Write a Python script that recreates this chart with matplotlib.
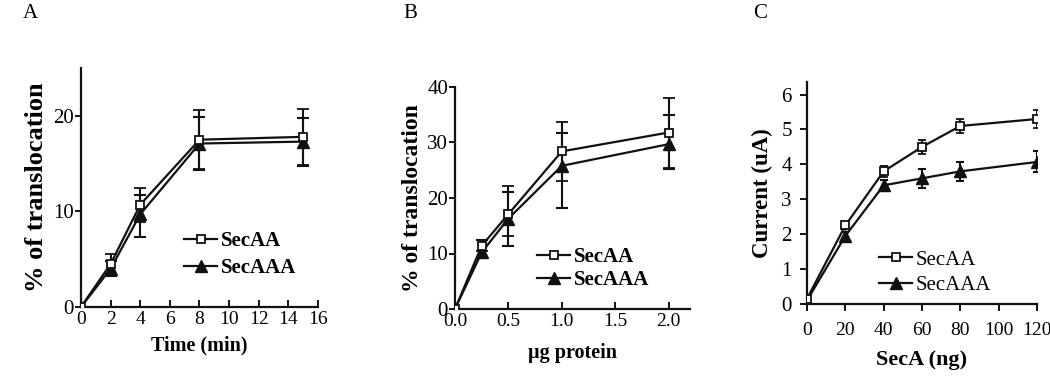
import matplotlib
matplotlib.use("Agg")
import matplotlib.pyplot as plt
from matplotlib.lines import Line2D
import numpy as np

plt.rcParams['font.family'] = ['Liberation Serif', 'DejaVu Serif']

# Panel A: time course
timeA = [0, 2, 4, 8, 15]
secAA_A = [0, 4.5, 10.7, 17.5, 17.8]
secAA_A_err = [0, 1.0, 1.8, 3.1, 2.9]
secAAA_A = [0, 4.0, 9.7, 17.1, 17.3]
secAAA_A_lo = [0, 0.8, 2.4, 2.8, 2.5]
secAAA_A_hi = [0, 0.8, 2.0, 2.8, 2.5]

# Panel B: protein amount
protB = [0, 0.25, 0.5, 1.0, 2.0]
secAA_B = [0, 11.4, 17.1, 28.4, 31.8]
secAA_B_lo = [0, 1.0, 3.9, 5.3, 6.4]
secAA_B_hi = [0, 1.0, 5.1, 5.3, 6.3]
secAAA_B = [0, 10.2, 16.3, 25.8, 29.7]
secAAA_B_lo = [0, 1.0, 4.9, 7.6, 4.4]
secAAA_B_hi = [0, 2.2, 4.7, 6.0, 5.2]

# Panel C: current
secaC = [0, 20, 40, 60, 80, 120]
secAA_C = [0.15, 2.25, 3.8, 4.5, 5.1, 5.3]
secAA_C_err = [0.05, 0.1, 0.15, 0.2, 0.2, 0.27]
secAAA_C = [0.1, 1.95, 3.4, 3.6, 3.8, 4.07]
secAAA_C_err = [0.05, 0.1, 0.15, 0.27, 0.28, 0.3]

series_labels = ['SecAA', 'SecAAA']

fig = plt.figure(figsize=(10.5, 3.81), dpi=100)
W, H = 1050, 381

def ax_px(l, r, b, t):
    return fig.add_axes([l / W, (H - b) / H, (r - l) / W, (b - t) / H])

axA = ax_px(81, 318, 307, 68)
axB = ax_px(455, 690, 309, 87)
axC = ax_px(807, 1037, 304, 82)

lw = 1.6
col = '#111111'
SQ = dict(marker='s', ms=6, mfc='white', mec=col, mew=1.3)
TR = dict(marker='^', ms=8, mfc=col, mec=col)

def draw(ax, x, y1, e1, y2, e2, cap):
    ax.errorbar(x, y2, yerr=e2, color=col, lw=lw, elinewidth=1.5, capsize=cap,
                capthick=1.5, zorder=2, **TR)
    ax.errorbar(x, y1, yerr=e1, color=col, lw=lw, elinewidth=1.5, capsize=cap,
                capthick=1.5, zorder=3, **SQ)

def style(ax):
    for s in ['top', 'right']:
        ax.spines[s].set_visible(False)
    for s in ['left', 'bottom']:
        ax.spines[s].set_linewidth(1.6)
        ax.spines[s].set_color(col)

# A
draw(axA, timeA, secAA_A, secAA_A_err, secAAA_A, [secAAA_A_lo, secAAA_A_hi], 4.5)
style(axA)
axA.set_xlim(0, 16)
axA.set_ylim(0, 25)
axA.set_xticks(np.arange(0, 17, 2))
axA.set_yticks([0, 10, 20])
axA.tick_params(axis='x', direction='in', length=5, width=1.3, labelsize=14, pad=3)
axA.tick_params(axis='y', direction='out', length=4, width=1.3, labelsize=15, pad=1)
axA.set_xlabel('Time (min)', fontsize=14.5, fontweight='bold', labelpad=5)
axA.set_ylabel('% of translocation', fontsize=19, fontweight='bold', labelpad=4)

# B
draw(axB, protB, secAA_B, [secAA_B_lo, secAA_B_hi], secAAA_B, [secAAA_B_lo, secAAA_B_hi], 4.5)
style(axB)
axB.set_xlim(0, 2.2)
axB.set_ylim(0, 40)
axB.set_xticks([0, 0.5, 1.0, 1.5, 2.0])
axB.set_xticklabels(['0.0', '0.5', '1.0', '1.5', '2.0'])
axB.set_yticks([0, 10, 20, 30, 40])
axB.tick_params(axis='x', direction='in', length=5, width=1.3, labelsize=14, pad=3)
axB.tick_params(axis='y', direction='out', length=4, width=1.3, labelsize=15, pad=1)
axB.set_xlabel('\u00b5g protein', fontsize=14.5, fontweight='bold', labelpad=9)
axB.set_ylabel('% of translocation', fontsize=17, fontweight='bold', labelpad=3)

# C
draw(axC, secaC, secAA_C, secAA_C_err, secAAA_C, secAAA_C_err, 3)
style(axC)
axC.set_xlim(0, 120)
axC.set_ylim(0, 6.36)
axC.set_xticks([0, 20, 40, 60, 80, 100, 120])
axC.set_yticks([0, 1, 2, 3, 4, 5, 6])
axC.tick_params(axis='x', direction='out', length=5, width=1.3, labelsize=14, pad=8)
axC.tick_params(axis='y', direction='out', length=5, width=1.3, labelsize=15, pad=6)
axC.set_xlabel('SecA (ng)', fontsize=16, fontweight='bold', labelpad=8)
axC.set_ylabel('Current (uA)', fontsize=16.5, fontweight='bold', labelpad=6)

def legend(ax, loc_px, bold, size, spacing):
    handles = [Line2D([], [], color=col, lw=lw, **SQ),
               Line2D([], [], color=col, lw=lw, **TR)]
    x, y = loc_px
    ax.legend(handles, series_labels, frameon=False,
              loc='upper left', bbox_to_anchor=(x / W, (H - y) / H),
              bbox_transform=fig.transFigure, handlelength=1.6,
              handletextpad=0.15, borderpad=0, borderaxespad=0, labelspacing=spacing,
              prop={'size': size, 'weight': 'bold' if bold else 'normal'})

legend(axA, (184, 231), True, 15, 0.35)
legend(axB, (537, 247), True, 15, 0.15)
legend(axC, (879, 250), False, 15, 0.3)

for t, x in [('A', 23), ('B', 403), ('C', 753)]:
    fig.text(x / W, (H - 18) / H, t, fontsize=15, ha='left', va='baseline')

fig.savefig('out.png', dpi=100)
